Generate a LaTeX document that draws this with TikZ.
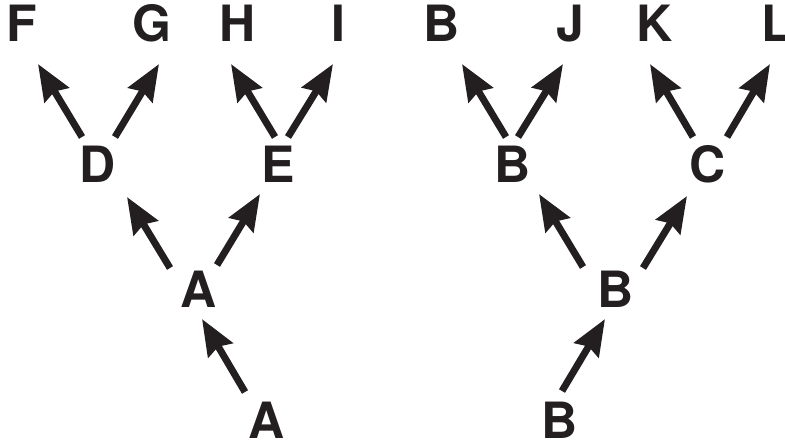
\documentclass[tikz,border=0pt]{standalone}
\usepackage{fontspec}
\setmainfont{TeX Gyre Heros}
\usetikzlibrary{arrows.meta}
\definecolor{ink}{HTML}{231F20}
\begin{document}
\begin{tikzpicture}[x=1pt,y=1pt,>={Stealth[length=36pt,width=28pt,inset=4pt]},
    lbl/.style={anchor=base,inner sep=0pt,text=ink,font=\fontsize{50}{50}\selectfont\bfseries},
    arr/.style={->,line width=7pt,draw=ink,fill=ink}]
\useasboundingbox (0,0) rectangle (785,444);

% letters: name/x/y/text
\foreach \n/\x/\y/\t in {F/22/402/F,G/152/402/G,H/238/402/H,I/338/402/I,
    B1/442/402/B,J/570/402/J,K/655/402/K,L/777/402/L,
    D/98/261/D,E/278/261/E,B2/513/261/B,C/708/261/C,
    A1/199/136/A,B3/616/136/B,A0/267/5/A,B4/560/5/B}
{
    \node[lbl] (\n) at (\x,\y) {\t};
}

% arrows: from/to/start shift/tip shift
\foreach \p/\c/\sx/\sy/\tx/\ty in {D/F/-16/46/16/-22,D/G/17/46/7/-22,
    E/H/-3/46/-7/-22,E/I/10/46/-5/-22,B2/B1/-7/46/20/-22,B2/J/5/46/-7/-22,
    C/K/-15/46/-5/-22,C/L/19/46/-7/-22,A1/D/-29/40/29/-14,A1/E/18/43/-18/-11,
    B3/B2/-33/41/26/-11,B3/C/27/40/-21/-13,A0/A1/-22/47/3/-11,B4/B3/2/48/-11/-11}
{
    \draw[arr]([shift={(\sx,\sy)}]\p.base)--([shift={(\tx,\ty)}]\c.base);
}
\end{tikzpicture}
\end{document}
